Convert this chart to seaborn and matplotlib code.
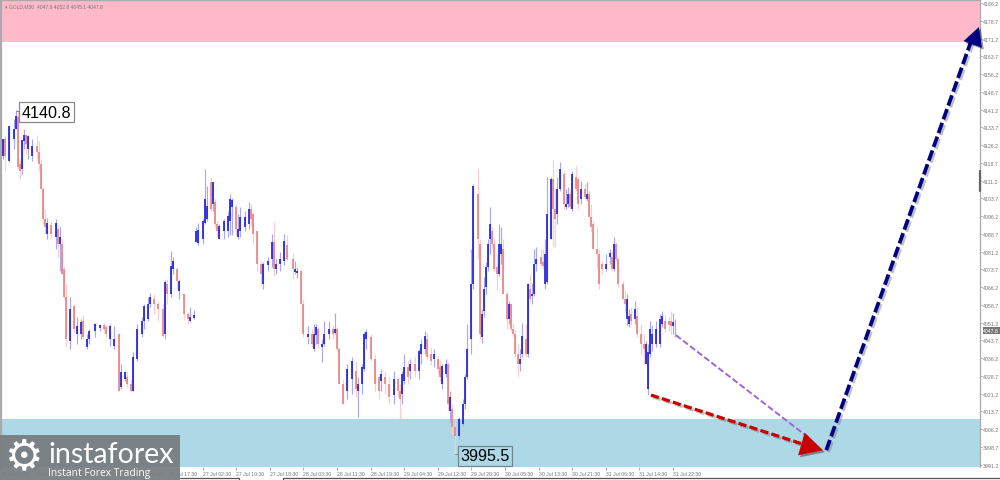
import matplotlib
matplotlib.use('Agg')

import matplotlib.pyplot as plt
import matplotlib.patheffects as pe
from matplotlib.lines import Line2D
from matplotlib.patches import Rectangle
import pandas as pd
import seaborn as sns

# M30 bar number of each candle
bars = [0,1,2,4,6,7,8,9,10,11, 12,13,15,17,18,19,20,21,22,24,
        26,27,28,29,30,31,33,35,36,38, 39,41,42,45,47,49,50,52,54,56,
        57,59,60,62,63,65,67,68,70,71, 73,75,77,78,79,81,82,84,85,87, 89,90,92,
        93,94,96,97,98,100,101,102,103,104, 106,108,109,110,112,113,114,116,118,119,
        120,122,124,125,127,129,130,131,133,135, 136,139,140,141,143,144,146,148,149,150,
        151,153,154,156,158,159,160,161,163,165, 167,169,170,172,173,174,176,178,180,181,
        183,185,187,189,190,191,192,194,195,197, 199,200,202,203,205,206,208,209,210,212,
        213,214,215,216,218,220,221,222,224,225, 227,228,229,230,231,232,233,234,235,236,
        237,238,239,241,242,243,244,245,246,247, 248,250,251,252,253,254,255,257,258,259,
        260,262,263,264,265,266,268,269,270,271, 272,274,275,276,278,279,280,281,282,284,
        285,286,288,290,291,292,293,294,296,297, 298,299,300,302,303,305,306,307,308,309,
        310,312,314,315,316,318,319,320,321]

opens = [4137.2,4121.6,4128.7,4119.5,4128.7,4133.0,4138.0,4118.2,4116.1,4127.9,
         4130.4,4124.5,4121.6,4125.8,4123.3,4118.2,4107.6,4095.0,4088.6,4092.4,
         4087.3,4090.7,4084.4,4084.4,4073.8,4062.0,4043.4,4058.2,4046.4,4046.4,
         4051.8,4040.9,4044.3,4047.6,4048.9,4050.2,4049.3,4044.3,4041.3,4046.4,
         4024.0,4027.4,4028.2,4025.2,4022.3,4035.8,4046.4,4051.8,4052.7,4059.0,
         4061.2,4059.0,4056.9,4046.4,4067.5,4063.3,4073.8,4073.8,4064.5,4063.3,
         4054.8,4051.8,4053.1,
         4085.2,4084.8,4086.5,4093.3,4095.0,4110.6,4101.3,4102.1,4092.8,4086.5,
         4089.9,4089.9,4094.1,4100.0,4100.0,4087.3,4089.9,4091.6,4092.8,4099.2,
         4097.1,4089.9,4075.9,4067.5,4075.5,4078.1,4085.2,4073.8,4075.9,4077.2,
         4084.0,4078.1,4072.6,4072.1,4073.0,4059.0,4045.1,4046.4,4040.0,4045.9,
         4048.5,4040.9,4042.1,4046.4,4048.5,4046.8,4048.5,4040.0,4025.2,4022.3,
         4027.4,4030.7,4022.3,4025.2,4031.6,4044.3,4045.1,4035.8,4028.2,4026.5,
         4028.2,4025.2,4020.6,4027.4,4022.3,4021.0,4026.5,4032.4,4030.7,4033.7,
         4030.7,4037.9,4040.0,4044.3,4037.9,4035.8,4035.8,4032.4,4025.2,4029.5,
         4033.7,4013.8,4014.7,4007.1,4003.3,4008.3,4016.8,4028.2,4044.3,4067.5,
         4105.5,4084.4,4045.1,4056.1,4066.2,4074.7,4086.5,4089.9,4084.4,4074.7,
         4071.7,4080.2,4082.3,4063.3,4052.7,4059.0,4048.5,4046.4,4037.9,4033.7,
         4037.9,4044.3,4037.9,4065.4,4062.4,4063.3,4075.9,4078.9,4076.8,4067.5,
         4068.3,4086.5,4111.9,4099.2,4097.1,4107.6,4114.0,4100.0,4101.3,4105.5,
         4099.2,4112.7,4111.9,4103.4,4107.6,4103.4,4105.5,4095.8,4092.8,4082.3,
         4080.2,4075.9,4073.8,4078.9,4078.9,4073.8,4084.4,4078.1,4067.5,4061.2,
         4052.7,4050.6,4054.8,4052.7,4054.0,4046.4,4042.1,4033.7,4023.1,4037.9,
         4042.1,4042.1,4042.1,4050.6,4051.8,4051.8,4051.8,4049.7,4047.6]

closes = [4128.7,4128.7,4121.6,4134.2,4133.0,4138.5,4116.9,4115.2,4128.3,4130.4,
          4126.6,4130.0,4125.8,4123.3,4118.2,4107.6,4095.0,4091.6,4093.3,4088.6,
          4093.3,4084.4,4087.3,4071.7,4062.0,4044.3,4056.9,4048.5,4049.7,4051.4,
          4045.1,4044.3,4047.6,4050.6,4050.2,4048.5,4046.4,4049.7,4044.3,4022.3,
          4030.3,4030.3,4025.2,4022.3,4036.6,4048.5,4051.8,4058.2,4059.0,4062.0,
          4059.0,4056.9,4045.5,4068.3,4063.3,4075.1,4077.2,4068.8,4068.8,4054.8,
          4052.7,4053.5,4054.4,
          4089.9,4090.3,4094.1,4103.4,4100.4,4099.2,4110.6,4092.8,4089.9,4092.0,
          4094.1,4096.2,4103.4,4103.0,4090.7,4090.7,4095.8,4095.8,4099.2,4095.0,
          4088.6,4075.9,4071.7,4075.9,4077.2,4085.2,4073.8,4075.9,4078.1,4085.6,
          4078.1,4073.8,4073.8,4073.0,4059.0,4046.4,4046.4,4042.1,4046.4,4049.3,
          4042.1,4042.1,4046.4,4048.5,4046.4,4048.5,4040.0,4025.2,4016.8,4031.6,
          4035.0,4023.1,4025.2,4032.4,4046.4,4047.2,4035.8,4025.2,4022.3,4029.5,
          4025.2,4019.7,4027.4,4022.3,4018.9,4029.5,4032.4,4028.2,4033.7,4030.7,
          4039.2,4042.1,4045.5,4036.6,4035.0,4037.9,4031.6,4028.2,4032.8,4033.7,
          4016.8,4019.7,4007.1,4003.3,4010.5,4016.8,4028.2,4040.0,4067.5,4108.9,
          4086.5,4046.4,4054.8,4065.4,4074.7,4084.4,4092.8,4084.4,4073.8,4071.7,
          4084.4,4084.4,4063.3,4052.7,4059.0,4048.5,4046.4,4037.9,4033.7,4035.8,
          4045.5,4037.9,4067.5,4061.2,4063.3,4075.9,4078.1,4075.9,4075.1,4080.2,
          4097.1,4111.9,4099.2,4095.0,4107.6,4116.1,4101.3,4101.3,4105.5,4100.0,
          4114.0,4107.6,4101.3,4107.6,4104.2,4105.5,4095.8,4091.6,4082.3,4080.2,
          4067.5,4073.8,4075.9,4080.6,4073.8,4084.4,4078.1,4067.5,4061.2,4059.0,
          4061.2,4054.0,4051.8,4056.9,4046.4,4042.1,4040.0,4042.1,4038.8,4048.5,
          4046.4,4048.5,4052.7,4054.0,4048.5,4050.2,4049.7,4051.4,4047.8]

highs = [4137.2,4128.7,4130.4,4134.2,4137.2,4141.0,4140.6,4120.3,4128.3,4133.0,
         4130.9,4130.4,4128.7,4130.4,4127.9,4120.3,4108.5,4099.2,4095.4,4094.1,
         4095.0,4092.4,4091.6,4086.5,4074.7,4067.5,4062.0,4059.0,4053.5,4052.7,
         4054.4,4046.4,4048.5,4051.0,4050.6,4051.0,4050.2,4050.6,4049.7,4046.8,
         4033.7,4030.7,4030.7,4027.4,4038.8,4050.6,4053.5,4059.0,4062.0,4063.7,
         4063.3,4060.3,4059.0,4069.2,4069.6,4081.4,4078.9,4074.7,4069.6,4063.3,
         4055.6,4057.8,4056.5,
         4091.6,4093.3,4095.0,4116.1,4108.9,4112.7,4110.6,4103.4,4094.1,4092.8,
         4095.0,4098.3,4105.5,4103.8,4101.3,4097.1,4100.0,4098.3,4102.1,4101.3,
         4097.9,4089.9,4077.2,4076.8,4078.9,4088.6,4093.7,4078.1,4081.0,4088.6,
         4088.2,4080.6,4077.2,4074.7,4073.4,4061.2,4049.7,4048.5,4050.6,4050.6,
         4049.3,4044.3,4051.8,4051.8,4050.2,4055.2,4049.3,4040.9,4027.4,4033.7,
         4036.6,4035.0,4028.2,4033.7,4047.2,4048.5,4046.4,4037.9,4029.5,4031.6,
         4030.7,4028.2,4030.7,4028.2,4025.2,4030.7,4037.9,4034.9,4035.8,4036.6,
         4040.0,4044.3,4047.6,4046.8,4040.9,4040.0,4037.1,4034.9,4033.7,4035.8,
         4034.5,4022.3,4016.8,4010.5,4011.3,4018.9,4029.5,4050.6,4082.3,4109.7,
         4116.1,4086.5,4056.9,4070.4,4076.8,4086.5,4100.0,4091.6,4086.5,4080.2,
         4092.8,4091.6,4086.5,4064.5,4060.3,4059.5,4051.0,4048.5,4042.1,4040.0,
         4051.0,4050.6,4067.9,4071.7,4067.9,4082.3,4083.1,4082.3,4082.3,4086.5,
         4112.7,4112.7,4119.9,4107.6,4112.7,4119.0,4115.2,4107.6,4108.5,4107.6,
         4115.2,4117.3,4112.7,4111.0,4109.7,4110.6,4106.8,4101.3,4094.1,4091.6,
         4082.3,4077.2,4080.2,4082.3,4081.4,4087.3,4085.2,4078.9,4068.8,4064.5,
         4063.3,4056.9,4057.8,4060.3,4057.8,4050.6,4046.4,4043.4,4042.1,4051.8,
         4050.2,4051.8,4054.8,4056.1,4054.4,4053.5,4056.1,4055.2,4052.8]

lows = [4126.6,4120.3,4115.2,4119.0,4124.5,4133.0,4116.1,4111.9,4114.0,4124.5,
        4122.4,4120.3,4119.5,4120.3,4115.2,4107.6,4092.8,4088.6,4086.5,4086.5,
        4082.3,4078.9,4073.0,4071.7,4061.2,4040.9,4040.0,4047.2,4042.1,4044.3,
        4044.3,4040.0,4042.1,4045.1,4047.6,4047.2,4045.1,4041.3,4040.0,4022.3,
        4023.1,4026.5,4024.0,4021.9,4022.3,4035.0,4045.1,4048.5,4051.8,4057.8,
        4054.8,4051.8,4045.1,4044.3,4059.0,4062.0,4071.7,4065.4,4061.2,4052.7,
        4050.6,4051.4,4052.7,
        4085.2,4084.0,4084.4,4092.8,4094.1,4098.3,4098.3,4091.6,4087.3,4086.5,
        4086.5,4087.3,4088.2,4088.2,4087.8,4086.5,4087.3,4089.9,4090.7,4091.6,
        4084.4,4073.0,4067.1,4065.4,4073.0,4074.7,4070.9,4071.7,4073.0,4075.5,
        4077.2,4069.6,4071.7,4070.0,4059.0,4045.1,4042.1,4040.9,4039.2,4042.1,
        4040.0,4034.5,4041.3,4044.3,4044.3,4046.4,4039.2,4025.2,4016.8,4018.9,
        4021.0,4019.7,4011.3,4021.0,4030.7,4040.0,4035.0,4022.3,4018.9,4022.3,
        4021.0,4016.8,4016.8,4019.7,4010.5,4016.8,4025.2,4025.2,4027.4,4028.2,
        4027.4,4033.7,4037.9,4035.8,4033.3,4032.4,4029.5,4026.5,4023.1,4028.2,
        4013.8,4009.2,4004.1,3995.5,4002.0,4007.5,4014.7,4027.4,4037.9,4065.4,
        4078.1,4044.3,4042.6,4053.5,4063.3,4073.0,4080.2,4082.3,4073.0,4065.0,
        4070.9,4075.9,4063.3,4048.5,4050.6,4047.6,4045.1,4036.6,4028.2,4030.7,
        4036.6,4036.6,4036.6,4060.3,4059.0,4062.4,4073.0,4074.7,4073.8,4065.4,
        4067.5,4086.5,4083.1,4083.1,4092.8,4106.8,4099.2,4099.2,4100.0,4099.2,
        4098.3,4106.8,4099.2,4101.3,4103.4,4102.6,4095.8,4089.9,4082.3,4073.8,
        4065.4,4071.7,4073.0,4075.9,4073.0,4073.0,4077.2,4066.2,4061.2,4056.1,
        4050.2,4049.3,4050.6,4050.6,4045.1,4037.9,4033.7,4033.7,4020.6,4036.6,
        4039.2,4040.9,4040.9,4049.3,4047.2,4047.6,4046.4,4046.4,4045.1]

xtick_bars = [0,16,32,48,64,80,96,112,128,144,160,176,192,208,224,240,256,272,288,304,320]
xtick_labels = ['22 Jul 23:30','23 Jul 08:30','23 Jul 16:30','24 Jul 01:30','24 Jul 09:30',
                '24 Jul 17:30','27 Jul 02:30','27 Jul 10:30','27 Jul 18:30','28 Jul 03:30',
                '28 Jul 11:30','28 Jul 19:30','29 Jul 04:30','29 Jul 12:30','29 Jul 20:30',
                '30 Jul 05:30','30 Jul 13:30','30 Jul 21:30','31 Jul 06:30','31 Jul 14:30',
                '31 Jul 22:30']
ytick_prices = [4186.2,4178.7,4171.2,4163.7,4156.2,4148.7,4141.2,4133.7,4126.2,4118.7,4111.2,
                4103.7,4096.2,4088.7,4081.2,4073.7,4066.2,4058.7,4051.2,4043.7,4036.2,4028.7,
                4021.2,4013.7,4006.2,3998.7,3991.2]

sell_zone = [4169.9, 4187.5]
buy_zone = [3990.2, 4010.5]
high_mark = [3, 4140.8]
low_mark = [216, 3995.5]
last_price = 4047.8
bar_limit = 466.2

# forecast arrows: [bar, price] pairs, head base and tip kept apart from the shaft
purple_bars, purple_prices = [321.4, 384.3], [4045.9, 4002.8]
red_bars, red_prices = [309.5, 383.5], [4020.6, 3999.4]
red_base, red_tip = [385.5, 3998.8], [391.4, 3997.3]
navy_bars, navy_prices = [393.0, 462.3], [3997.3, 4171.0]
navy_base, navy_tip = [463.8, 4171.4], [465.7, 4176.1]

sns.set_theme(style="white")
plt.rcParams['font.family'] = ['Liberation Sans', 'DejaVu Sans']

candles = pd.DataFrame({'bar': bars, 'open': opens, 'close': closes, 'high': highs, 'low': lows})
candles['side'] = ['up' if c >= o else 'down' for o, c in zip(candles['open'], candles['close'])]
candles['body_top'] = candles[['open', 'close']].max(axis=1)
candles['body_bottom'] = candles[['open', 'close']].min(axis=1)

wicks = candles.melt(id_vars=['bar', 'side'], value_vars=['high', 'low'], value_name='price')
bodies = candles.melt(id_vars=['bar', 'side'], value_vars=['body_top', 'body_bottom'], value_name='price')

fig = plt.figure(figsize=(10, 4.81), dpi=100)
ax = fig.add_axes([0.001, 1 - 468 / 481, 0.979, 467 / 481])

ax.axhspan(sell_zone[0], sell_zone[1], color='#ffb9c9', lw=0, zorder=0)
ax.axhspan(buy_zone[0], buy_zone[1], color='#add8e6', lw=0, zorder=0)

sns.lineplot(data=wicks, x='bar', y='price', hue='side', units='bar', estimator=None, sort=False,
             palette={'up': '#a8a8f0', 'down': '#f9cdcd'}, lw=0.85, legend=False, ax=ax,
             solid_capstyle='butt', zorder=2)
sns.lineplot(data=bodies, x='bar', y='price', hue='side', units='bar', estimator=None, sort=False,
             palette={'up': '#1c1cd8', 'down': '#ec8080'}, lw=1.2, legend=False, ax=ax,
             solid_capstyle='butt', zorder=3)

ax.set_xlim(0, bar_limit)
ax.set_ylim(buy_zone[0], sell_zone[1])
ax.set_xlabel('')
ax.set_ylabel('')

# despine flips the x ticks to the top when the bottom spine goes, so do it first
sns.despine(ax=ax, top=False, right=False, left=False, bottom=True)
for name, width in [('left', 1.6), ('top', 1.0), ('right', 0.9)]:
    ax.spines[name].set_color('#aaaaaa')
    ax.spines[name].set_linewidth(width)

ax.xaxis.tick_bottom()
ax.set_xticks(xtick_bars)
ax.set_xticklabels(xtick_labels, ha='left')
ax.yaxis.tick_right()
ax.set_yticks(ytick_prices)
ax.set_yticklabels([f'{p:.1f}' for p in ytick_prices])
ax.tick_params(axis='x', bottom=True, top=False, labelbottom=True, labeltop=False, length=2, width=0.5,
               color='#888888', labelsize=3.7, labelcolor='#777777', pad=0.8)
ax.tick_params(axis='y', right=True, length=1.5, width=0.5, color='#888888', labelsize=3.8,
               labelcolor='#777777', pad=0.6)

shadow = [pe.SimpleLineShadow(offset=(1.4, -1.4), shadow_color='#777777', alpha=0.45), pe.Normal()]


def forecast_arrow(xs, ys, base, tip, color, width, dash, scale):
    ax.plot(xs, ys, color=color, lw=width, dashes=dash, zorder=5, path_effects=shadow,
            dash_capstyle='butt')
    ax.annotate('', xy=tip, xytext=base, zorder=6,
                arrowprops=dict(arrowstyle='-|>,head_length=0.95,head_width=0.5', color=color,
                                lw=0, mutation_scale=scale, shrinkA=0, shrinkB=0,
                                path_effects=[pe.SimplePatchShadow(offset=(1.4, -1.4), alpha=0.4),
                                              pe.Normal()]))


ax.plot(purple_bars, purple_prices, color='#9a66dc', lw=1.4, dashes=(3.2, 1.4), zorder=5,
        dash_capstyle='butt')
forecast_arrow(red_bars, red_prices, red_base, red_tip, '#c80000', 2.3, (2.6, 1.0), 17)
forecast_arrow(navy_bars, navy_prices, navy_base, navy_tip, '#000080', 2.7, (2.9, 1.0), 14)

# swing labels with their short leader lines
ax.plot([high_mark[0] + 4, high_mark[0] + 9], [high_mark[1], high_mark[1]], color='#888888', lw=0.7, zorder=6)
ax.plot([low_mark[0], low_mark[0] + 2], [low_mark[1], low_mark[1]], color='#888888', lw=0.7, zorder=6)
box = dict(boxstyle='square,pad=0.16', fc='white', ec='#8a8a8a', lw=0.9)
ax.text(high_mark[0] + 6.8, high_mark[1], f'{high_mark[1]:.1f}', fontsize=11.6, color='black',
        ha='left', va='center_baseline', bbox=box, zorder=7)
box_low = dict(boxstyle='square,pad=0.16', fc='#add8e6', ec='#6f8790', lw=0.9)
ax.text(low_mark[0] + 2.8, low_mark[1], f'{low_mark[1]:.1f}', fontsize=11.6, color='black',
        ha='left', va='center_baseline', bbox=box_low, zorder=7)

# header and current price tag
ax.text(0.0045, 0.9925, '\u25be GOLD,M30  4047.6 4052.8 4045.1 4047.8', transform=ax.transAxes,
        fontsize=3.6, color='#777777', ha='left', va='top', zorder=7)
ax.text(1.0035, last_price, f'{last_price:.1f}', transform=ax.get_yaxis_transform(), fontsize=3.7,
        color='white', ha='left', va='center', clip_on=False, zorder=8,
        bbox=dict(boxstyle='square,pad=0.18', fc='#777777', ec='none'))
ax.plot([1.0, 1.0], [4106.8, 4115.2], transform=ax.get_yaxis_transform(), color='#666666', lw=1.6,
        clip_on=False, zorder=8)

# terminal tab strip under the chart
strip = dict(color='#555555', lw=0.9, transform=fig.transFigure)
fig.add_artist(Line2D([0.18, 0.239, 0.239], [0.0045, 0.0045, 0], **strip))
fig.add_artist(Line2D([0.283, 0.283, 1.0], [0, 0.0045, 0.0045], **strip))

# logo block over the bottom left corner
fig.add_artist(Rectangle((0, 0), 0.18, 45 / 481, transform=fig.transFigure, fc='#797e81', ec='none',
                         alpha=0.95, zorder=10))
fig.text(0.0245, 24 / 481, '\u2699', fontsize=31, color='white', ha='center', va='center',
         family='DejaVu Sans', zorder=11)
fig.text(0.048, 26 / 481, 'instaforex', fontsize=20.5, color='white', ha='left', va='center',
         family='Lato', zorder=11)
fig.text(0.048, 7.5 / 481, 'Instant Forex Trading', fontsize=7.4, color='white', ha='left', va='center',
         family='Open Sans', zorder=11)

fig.savefig('out.png', dpi=100)
plt.close(fig)
